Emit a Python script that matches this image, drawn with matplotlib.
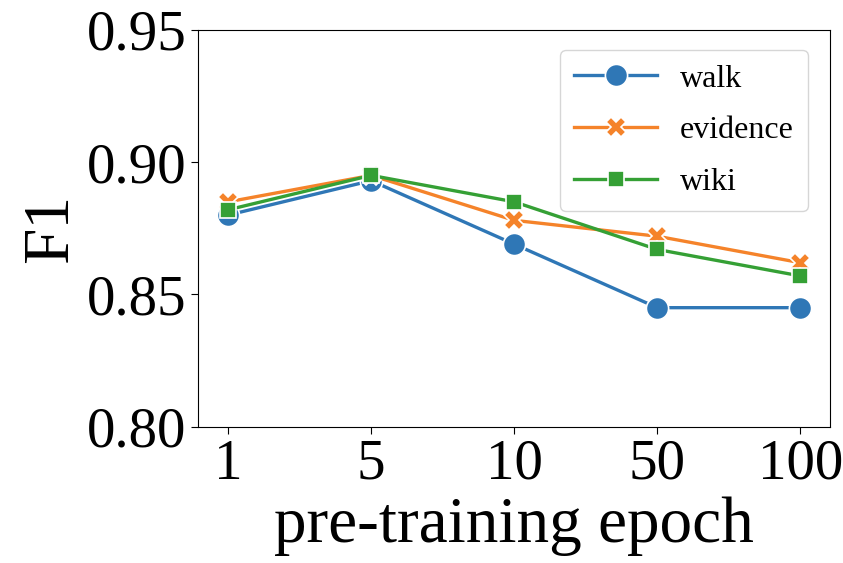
import numpy as np
import matplotlib.pyplot as plt

# data
epochs = ['1', '5', '10', '50', '100']
walk = [0.880, 0.893, 0.869, 0.845, 0.845]
evidence = [0.885, 0.895, 0.878, 0.872, 0.862]
wiki = [0.882, 0.895, 0.885, 0.867, 0.857]

plt.rcParams['font.family'] = ['Liberation Serif', 'DejaVu Serif']

fig = plt.figure(figsize=(8.43, 5.63), dpi=100)
ax = fig.add_axes([0.235, 0.242, 0.75, 0.705])

x = np.arange(len(epochs))
ax.plot(x, walk, color='#2f77b6', lw=2.4, marker='o', ms=16,
        mec='white', mew=1.2, label='walk')
ax.plot(x, evidence, color='#f5832a', lw=2.4, marker='X', ms=15,
        mec='white', mew=1.2, label='evidence')
ax.plot(x, wiki, color='#35a035', lw=2.4, marker='s', ms=12,
        mec='white', mew=1.2, label='wiki')

ax.set_xticks(x)
ax.set_xticklabels(epochs)
ax.set_xlim(-0.21, 4.21)
ax.set_ylim(0.80, 0.95)
ax.set_yticks([0.80, 0.85, 0.90, 0.95])
ax.set_yticklabels(['0.80', '0.85', '0.90', '0.95'])
ax.tick_params(labelsize=41, length=5)
ax.set_xlabel('pre-training epoch', fontsize=47, labelpad=4)
ax.set_ylabel('F1', fontsize=47, labelpad=4)

ax.legend(loc='upper right', fontsize=23, handlelength=2.6,
          handletextpad=0.7, borderpad=0.45, labelspacing=0.7,
          bbox_to_anchor=(0.99, 0.99))

fig.savefig('out.png', dpi=100)
